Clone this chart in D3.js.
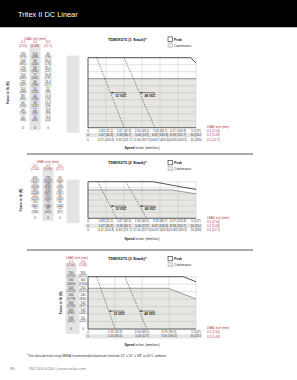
<!DOCTYPE html>
<html><head><meta charset="utf-8">
<script src="https://cdn.jsdelivr.net/npm/d3@7"></script>
<style>html,body{margin:0;padding:0;background:#fff;}svg{display:block;font-family:"Liberation Sans",Arial,sans-serif;}</style>
</head><body>
<script>
// ---------- DATA ----------
const pageTitle = "Tritex II DC Linear";
const footnote = "*Test data derived using NEMA recommended aluminum heatsink 10\" x 10\" x 3/8\" at 40°C ambient.";
const pageNum = "88";
const contact = "952.500.6200 | www.exlar.com";

// Chart 1 : 1 stack
const title1 = "TDM/X075 (1 Stack)*";
const leads1 = ["0.1", "0.2", "0.5"];
const leadsMm1 = ["(2.54)", "(5.08)", "(12.7)"];
const forceLb1 = [
  ["220","198","176","154","132","110","88","66","44","22","0"],
  ["110","99","88","77","66","55","44","33","22","11","0"],
  ["44","39.6","35.2","30.8","26.4","22","17.6","13.2","8.8","4.4","0"]];
const forceN1 = [
  ["(979)","(881)","(783)","(685)","(587)","(489)","(391)","(294)","(196)","(98)",""],
  ["(489)","(440)","(391)","(342)","(294)","(245)","(196)","(147)","(98)","(49)",""],
  ["(196)","(176)","(157)","(137)","(117)","(98)","(78)","(59)","(39)","(20)",""]];
const speed1 = [
  ["0","0.83 (21.2)","1.67 (42.3)","2.50 (63.5)","3.33 (84.7)","4.17 (105.8)","5 (127)"],
  ["0","1.67 (42.3)","3.33 (84.7)","5.00 (127)","6.67 (169.3)","8.33 (211.7)","10 (254)"],
  ["0","4.17 (105.8)","8.33 (211.7)","12.50 (317.5)","16.67 (423.3)","20.83 (529.2)","25 (635)"]];
const peak1 = [[0, 220], [4.76, 220], [5, 203]];
const cont1 = [[0, 154], [5, 154]];
const v12_1 = [[0.40, 220], [1.67, 0]];
const v48_1 = [[1.67, 220], [3.10, 0]];

// Chart 2 : 2 stack
const title2 = "TDM/X075 (2 Stack)*";
const leads2 = ["0.1", "0.2", "0.5"];
const leadsMm2 = ["(2.54)", "(5.08)", "(12.7)"];
const forceLb2 = [
  ["450","375","300","225","150","75","0"],
  ["225","188","150","113","75","38","0"],
  ["90","75","60","45","30","15","0"]];
const forceN2 = [
  ["(2002)","(1668)","(1334)","(1001)","(667)","(334)",""],
  ["(1001)","(834)","(667)","(500)","(334)","(167)",""],
  ["(400)","(334)","(267)","(200)","(133)","(67)",""]];
const speed2 = [
  ["0","0.83 (21.2)","1.67 (42.3)","2.50 (63.5)","3.33 (84.7)","4.17 (105.8)","5 (127)"],
  ["0","1.67 (42.3)","3.33 (84.7)","5.00 (127)","6.67 (169.3)","8.33 (211.7)","10 (254)"],
  ["0","4.17 (105.8)","8.33 (211.7)","12.50 (317.5)","16.67 (423.3)","20.83 (529.2)","25 (635)"]];
const peak2 = [[0, 450], [3.0, 450], [5, 354]];
const cont2 = [[0, 348], [3.9, 348], [5, 300]];
const v12_2 = [[0.45, 450], [1.33, 0]];
const v48_2 = [[1.75, 450], [2.72, 0]];

// Chart 3 : 3 stack
const title3 = "TDM/X075 (3 Stack)*";
const leads3 = ["0.1", "0.2"];
const leadsMm3 = ["(2.54)", "(5.08)"];
const forceLb3 = [
  ["700","600","500","400","300","200","100","0"],
  ["350","300","250","200","150","100","50","0"]];
const forceN3 = [
  ["(3114)","(2669)","(2224)","(1779)","(1334)","(890)","(445)",""],
  ["(1557)","(1334)","(1112)","(890)","(667)","(445)","(222)",""]];
const speed3 = [
  ["0","1.25 (31.8)","2.50 (63.5)","3.75 (95.3)","5 (127)"],
  ["0","2.50 (63.5)","5.00 (127)","7.50 (190.5)","10 (254)"]];
const peak3 = [[0, 700], [4.41, 700], [5, 633]];
const cont3 = [[0, 545], [3.72, 545], [5, 402]];
const v12_3 = [[0.40, 700], [1.25, 0]];
const v48_3 = [[1.71, 700], [2.72, 0]];

const speedMax = 5; // lead 0.1 in/sec scale used for plotting

// ---------- DRAW ----------
const W = 297, H = 380;
const svg = d3.select("body").append("svg").attr("width", W).attr("height", H);
const RED = "#b0353d", GRAYFILL = "#e8e6e3", PANEL = "#e4e4e4";

svg.append("rect").attr("x", 0).attr("y", 0).attr("width", W).attr("height", 27).attr("fill", "#000");
svg.append("line").attr("x1", 0).attr("x2", W).attr("y1", 27.5).attr("y2", 27.5).attr("stroke", "#999").attr("stroke-width", 0.6);
svg.append("text").attr("x", 18).attr("y", 16.5).attr("fill", "#fff").attr("font-size", 7.4).text(pageTitle);

function drawChart(c) {
  const g = svg.append("g");
  const L = 88, R = 196;
  const x = d3.scaleLinear().domain([0, speedMax]).range([L, R]);
  const y = d3.scaleLinear().domain([0, c.fMax]).range([c.bottom, c.top]);
  const nY = c.forceLb[0].length - 1;
  const nX = c.speed[0].length - 1;
  const yTickVals = d3.range(nY + 1).map(i => c.fMax * (nY - i) / nY);
  const xTickVals = d3.range(nX + 1).map(i => speedMax * i / nX);
  const fs = 3.0;
  const colX = c.colX;

  // gray panel left of the plot
  g.append("rect").attr("x", 66.5).attr("y", c.top - 2).attr("width", 13)
    .attr("height", c.bottom - c.top + 7).attr("fill", PANEL);
  // gray band behind highlighted lead column
  g.append("rect").attr("x", colX[c.grayCol] - 5.5).attr("y", c.headY + 4.5).attr("width", 11)
    .attr("height", c.bottom - c.headY - 2).attr("fill", PANEL);

  const lx = d3.mean(colX);
  g.append("text").attr("x", lx).attr("y", c.headY).attr("text-anchor", "middle").attr("font-size", fs)
    .attr("fill", RED).text("LEAD inch (mm)");
  c.leads.forEach((l, i) => {
    g.append("text").attr("x", colX[i]).attr("y", c.headY + 3.5).attr("text-anchor", "middle")
      .attr("font-size", fs).attr("fill", RED).text(l);
    g.append("text").attr("x", colX[i]).attr("y", c.headY + 7).attr("text-anchor", "middle")
      .attr("font-size", fs).attr("fill", RED).text(c.leadsMm[i]);
  });
  c.forceLb.forEach((col, i) => {
    col.forEach((t, j) => {
      const yy = y(yTickVals[j]);
      if (c.forceN[i][j]) {
        g.append("text").attr("x", colX[i]).attr("y", yy - 2.8).attr("text-anchor", "middle").attr("font-size", fs).attr("fill", "#333").text(t);
        g.append("text").attr("x", colX[i]).attr("y", yy + 0.4).attr("text-anchor", "middle").attr("font-size", fs).attr("fill", "#333").text(c.forceN[i][j]);
      } else {
        g.append("text").attr("x", colX[i]).attr("y", yy + 1).attr("text-anchor", "middle").attr("font-size", fs).attr("fill", "#333").text(t);
      }
    });
  });
  g.append("text").attr("transform", `translate(${c.yTitleX},${(c.top + c.bottom) / 2}) rotate(-90)`)
    .attr("text-anchor", "middle").attr("font-size", 3.4).attr("font-weight", "bold").attr("fill", "#333").text("Force in lb (N)");

  const area = d3.area().x(d => x(d[0])).y0(y(0)).y1(d => y(d[1]));
  g.append("path").datum(c.cont).attr("d", area).attr("fill", GRAYFILL);
  g.selectAll(null).data(yTickVals).enter().append("line")
    .attr("x1", L).attr("x2", R).attr("y1", d => y(d)).attr("y2", d => y(d))
    .attr("stroke", "#b5b5b5").attr("stroke-width", 0.4);
  g.selectAll(null).data(xTickVals).enter().append("line")
    .attr("y1", c.top).attr("y2", c.bottom).attr("x1", d => x(d)).attr("x2", d => x(d))
    .attr("stroke", "#b5b5b5").attr("stroke-width", 0.4);
  const line = d3.line().x(d => x(d[0])).y(d => y(d[1]));
  g.append("path").datum(c.cont).attr("d", line).attr("fill", "none").attr("stroke", "#777").attr("stroke-width", 0.7);
  g.append("path").datum(c.peak).attr("d", line).attr("fill", "none").attr("stroke", "#444").attr("stroke-width", 0.9);
  g.append("line").attr("x1", L).attr("x2", L).attr("y1", c.top).attr("y2", c.bottom).attr("stroke", "#444").attr("stroke-width", 0.8);
  g.append("line").attr("x1", L).attr("x2", R).attr("y1", c.bottom).attr("y2", c.bottom).attr("stroke", "#444").attr("stroke-width", 0.8);
  [c.v12, c.v48].forEach(v => {
    g.append("path").datum(v).attr("d", line).attr("fill", "none").attr("stroke", "#333")
      .attr("stroke-width", 0.55).attr("stroke-dasharray", "1.6,1.2");
  });
  const ay = y(c.arrowF);
  [[c.v12, "12 VDC"], [c.v48, "48 VDC"]].forEach(([v, lab]) => {
    const t = (c.arrowF - v[0][1]) / (v[1][1] - v[0][1]);
    const xs = x(v[0][0] + t * (v[1][0] - v[0][0]));
    g.append("line").attr("x1", xs + 0.5).attr("x2", xs + 15).attr("y1", ay).attr("y2", ay).attr("stroke", "#222").attr("stroke-width", 0.5);
    g.append("line").attr("x1", xs + 15).attr("x2", xs + 15).attr("y1", ay).attr("y2", ay + 2).attr("stroke", "#222").attr("stroke-width", 0.5);
    g.append("path").attr("d", `M${xs + 0.5},${ay} l2,-0.9 l0,1.8 z`).attr("fill", "#222");
    g.append("text").attr("x", xs + 5).attr("y", ay + 4.2).attr("font-size", 3.2).attr("font-weight", "bold").attr("fill", "#222").text(lab);
  });

  c.speed.forEach((row, i) => {
    const ry = c.bottom + 4 + i * 4.4;
    if (i === 1) g.append("rect").attr("x", L - 3).attr("y", ry - 3).attr("width", R - L + 6).attr("height", 4.2).attr("fill", PANEL);
    row.forEach((t, j) => {
      g.append("text").attr("x", x(xTickVals[j])).attr("y", ry).attr("text-anchor", "middle").attr("font-size", fs).attr("fill", "#333").text(t);
    });
    g.append("text").attr("x", 207).attr("y", ry + 0.2).attr("font-size", fs).attr("fill", RED).text(c.leads[i] + " " + c.leadsMm[i]);
  });
  g.append("text").attr("x", 207).attr("y", c.bottom + 0.2).attr("font-size", fs).attr("fill", RED).text("LEAD inch (mm)");
  g.append("text").attr("x", (L + R) / 2).attr("y", c.bottom + 4 + c.speed.length * 4.4 + 4)
    .attr("text-anchor", "middle").attr("font-size", 3.4).attr("fill", "#222")
    .html('<tspan font-weight="bold">Speed</tspan> in/sec (mm/sec)');

  g.append("text").attr("x", 108).attr("y", c.headY + 1).attr("font-size", 4).attr("font-weight", "bold").attr("fill", "#111").text(c.title);
  g.append("rect").attr("x", 168).attr("y", c.headY - 2.6).attr("width", 4.4).attr("height", 4.4).attr("fill", "#fff").attr("stroke", "#222").attr("stroke-width", 0.6);
  g.append("text").attr("x", 174).attr("y", c.headY + 1).attr("font-size", 3.4).attr("font-weight", "bold").attr("fill", "#222").text("Peak");
  g.append("rect").attr("x", 168).attr("y", c.headY + 3.4).attr("width", 4.4).attr("height", 4.4).attr("fill", GRAYFILL).attr("stroke", "#aaa").attr("stroke-width", 0.5);
  g.append("text").attr("x", 174).attr("y", c.headY + 7).attr("font-size", 3.4).attr("fill", "#222").text("Continuous");
}

drawChart({title: title1, leads: leads1, leadsMm: leadsMm1, forceLb: forceLb1, forceN: forceN1, speed: speed1,
  peak: peak1, cont: cont1, v12: v12_1, v48: v48_1, fMax: 220, arrowF: 110,
  top: 57.7, bottom: 127.7, headY: 39.5, colX: [23, 35, 48], grayCol: 1, yTitleX: 9});
drawChart({title: title2, leads: leads2, leadsMm: leadsMm2, forceLb: forceLb2, forceN: forceN2, speed: speed2,
  peak: peak2, cont: cont2, v12: v12_2, v48: v48_2, fMax: 450, arrowF: 150,
  top: 181.7, bottom: 218.3, headY: 163, colX: [35, 48, 60], grayCol: 1, yTitleX: 22});
drawChart({title: title3, leads: leads3, leadsMm: leadsMm3, forceLb: forceLb3, forceN: forceN3, speed: speed3,
  peak: peak3, cont: cont3, v12: v12_3, v48: v48_3, fMax: 700, arrowF: 240,
  top: 276.7, bottom: 329, headY: 259, colX: [71, 83], grayCol: 0, yTitleX: 62});

[154, 250].forEach(yy => svg.append("line").attr("x1", 27).attr("x2", 253).attr("y1", yy).attr("y2", yy).attr("stroke", "#555").attr("stroke-width", 1.2));

svg.append("text").attr("x", 27).attr("y", 356.5).attr("font-size", 3.2).attr("fill", "#333").text(footnote);
svg.append("text").attr("x", 10).attr("y", 370).attr("font-size", 4.2).attr("fill", "#888").text(pageNum);
svg.append("text").attr("x", 29).attr("y", 370).attr("font-size", 4.2).attr("fill", "#888").text(contact);
</script>
</body></html>
